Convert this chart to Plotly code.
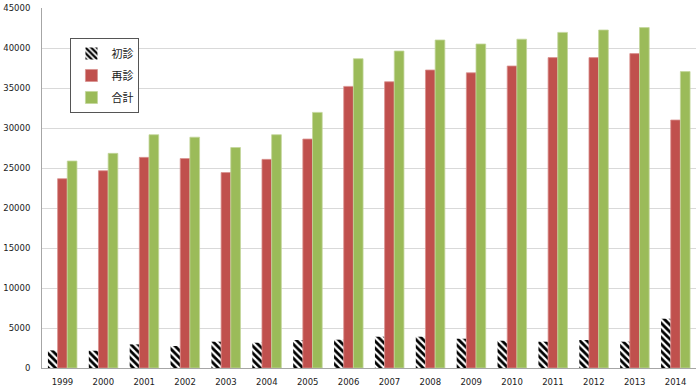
import plotly.graph_objects as go

years = [str(y) for y in range(1999, 2015)]
shoshin = [2200, 2160, 2950, 2750, 3290, 3160, 3500, 3540, 3910, 3910, 3660, 3410, 3290, 3500, 3290, 6160]
saishin = [23660, 24660, 26330, 26180, 24430, 26080, 28620, 35200, 35780, 37250, 36900, 37750, 38800, 38800, 39300, 31000]
goukei = [25870, 26830, 29160, 28850, 27560, 29160, 31950, 38660, 39620, 41000, 40500, 41100, 41950, 42250, 42550, 37050]
y_ticks = list(range(0, 45001, 5000))
y_tick_labels = [str(v) for v in y_ticks]

fig = go.Figure()
fig.add_trace(go.Bar(
    x=years, y=shoshin, name="初診", legendgroup="a",
    marker=dict(color="white", line=dict(width=0),
                pattern=dict(shape="\\", fgcolor="black", bgcolor="white",
                             fgopacity=1, size=5, solidity=0.55)),
))
fig.add_trace(go.Bar(
    x=years, y=saishin, name="再診", legendgroup="b",
    marker=dict(color="#C0504D", line=dict(color="#D9928F", width=0.8)),
))
fig.add_trace(go.Bar(
    x=years, y=goukei, name="合計", legendgroup="c",
    marker=dict(color="#9BBB59", line=dict(color="#C3D69B", width=0.8)),
))

fig.update_layout(
    width=700, height=392,
    margin=dict(l=42, r=4, t=8, b=24),
    paper_bgcolor="white", plot_bgcolor="white",
    barmode="group", bargap=0.29, bargroupgap=0,
    font=dict(family="DejaVu Sans", size=8.5, color="#1a1a1a"),
    showlegend=True,
    legend=dict(
        x=0.0435, y=0.9167, xanchor="left", yanchor="top",
        bgcolor="white", bordercolor="#555555", borderwidth=1,
        font=dict(family="Noto Sans CJK JP", size=11, color="#1a1a1a"),
        tracegroupgap=3, traceorder="grouped",
    ),
    xaxis=dict(
        type="category", showgrid=False, showline=True, linecolor="#a6a6a6", linewidth=1,
        ticks="", ticklabelstandoff=6,
    ),
    yaxis=dict(
        range=[0, 45000], tickvals=y_ticks, ticktext=y_tick_labels,
        showgrid=True, gridcolor="#d9d9d9", gridwidth=1,
        showline=True, linecolor="#a6a6a6", linewidth=1, zeroline=False,
        ticks="", ticklabelstandoff=9,
    ),
)

fig.write_html(
    "out.html",
    config={"displayModeBar": False},
    post_script="document.body.style.margin='0';document.body.style.padding='0';",
)
